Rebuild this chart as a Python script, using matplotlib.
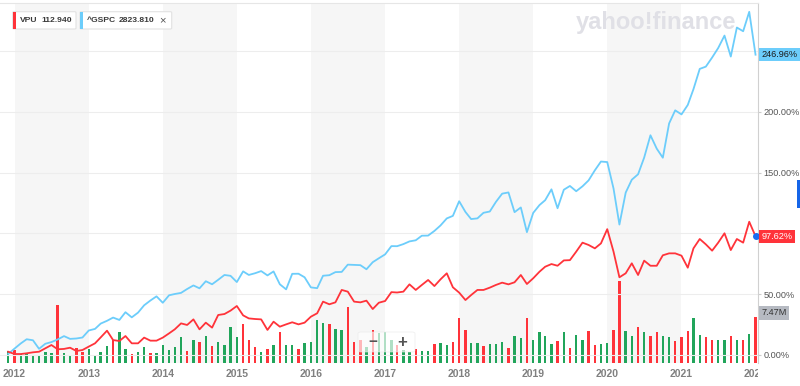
import matplotlib.pyplot as plt
import pandas as pd
from matplotlib.patches import FancyBboxPatch, Rectangle
from matplotlib.transforms import Bbox, TransformedBbox, blended_transform_factory

plt.rcParams["font.family"] = ["Liberation Sans", "DejaVu Sans"]

W, H = 800, 386

# monthly points, Dec 2011 .. Jan 2022 (last one is the intra-month price)
months = pd.date_range("2011-12-01", periods=122, freq="MS")

spx_base = 1246.91
spx_close = [
    1257.60,
    1312.41, 1365.68, 1408.47, 1397.91, 1310.33, 1362.16, 1379.32, 1406.58, 1440.67, 1412.16, 1416.18, 1426.19,
    1498.11, 1514.68, 1569.19, 1597.57, 1630.74, 1606.28, 1685.73, 1632.97, 1681.55, 1756.54, 1805.81, 1848.36,
    1782.59, 1859.45, 1872.34, 1883.95, 1923.57, 1960.23, 1930.67, 2003.37, 1972.29, 2018.05, 2067.56, 2058.90,
    1994.99, 2104.50, 2067.89, 2085.51, 2107.39, 2063.11, 2103.84, 1972.18, 1920.03, 2079.36, 2080.41, 2043.94,
    1940.24, 1932.23, 2059.74, 2065.30, 2096.95, 2098.86, 2173.60, 2170.95, 2168.27, 2126.15, 2198.81, 2238.83,
    2278.87, 2363.64, 2362.72, 2384.20, 2411.80, 2423.41, 2470.30, 2471.65, 2519.36, 2575.26, 2647.58, 2673.61,
    2823.81, 2713.83, 2640.87, 2648.05, 2705.27, 2718.37, 2816.29, 2901.52, 2913.98, 2711.74, 2760.17, 2506.85,
    2704.10, 2784.49, 2834.40, 2945.83, 2752.06, 2941.76, 2980.38, 2926.46, 2976.74, 3037.56, 3140.98, 3230.78,
    3225.52, 2954.22, 2584.59, 2912.43, 3044.31, 3100.29, 3271.12, 3500.31, 3363.00, 3269.96, 3621.63, 3756.07,
    3714.24, 3811.15, 3972.89, 4181.17, 4204.11, 4297.50, 4395.26, 4522.68, 4307.54, 4605.38, 4567.00, 4766.18,
    4326.51,
]

vpu_pct = [
    2.7,
    0.8, 0.8, 1.4, 2.2, 2.7, 5.5, 8.2, 4.7, 5.0, 6.0, 3.3, 4.1,
    6.9, 9.6, 14.5, 20.0, 12.3, 11.5, 15.6, 9.6, 9.6, 14.3, 11.8, 11.8,
    14.3, 17.8, 21.1, 26.0, 24.7, 29.3, 21.1, 26.6, 22.5, 32.9, 33.7, 36.5,
    40.3, 32.6, 30.1, 29.6, 29.3, 20.6, 27.4, 23.3, 25.2, 26.9, 25.2, 26.6,
    31.5, 34.3, 43.9, 41.7, 43.3, 53.5, 52.1, 43.9, 43.3, 44.7, 37.8, 43.0,
    44.4, 51.7, 51.4, 52.1, 58.1, 53.5, 57.6, 61.7, 56.7, 62.2, 67.2, 55.7,
    51.3, 45.2, 49.3, 53.5, 53.5, 55.4, 57.6, 59.5, 58.1, 59.8, 65.8, 58.4,
    63.1, 68.5, 72.6, 74.8, 73.4, 77.8, 78.0, 85.0, 92.4, 90.5, 87.7, 91.8,
    103.5, 85.0, 63.9, 67.2, 75.4, 65.8, 77.6, 73.4, 73.4, 82.0, 83.6, 83.6,
    81.7, 71.8, 87.7, 95.4, 91.0, 85.8, 92.4, 100.1, 86.3, 95.4, 92.4, 109.6,
    97.62,
]

# VPU volume, millions of shares
vpu_volume = [
    1.9,
    2.1, 1.4, 1.6, 1.1, 1.2, 1.8, 1.5, 9.5, 1.5, 1.3, 2.4, 1.8,
    2.3, 1.2, 1.8, 2.7, 3.8, 5.1, 2.2, 1.4, 1.8, 2.6, 1.6, 1.5,
    2.9, 2.1, 2.5, 4.2, 1.9, 3.8, 3.4, 4.3, 2.7, 3.4, 2.9, 5.8,
    4.2, 6.3, 3.8, 2.5, 1.8, 2.3, 2.9, 5.1, 2.9, 2.9, 2.3, 3.3,
    3.4, 7.0, 6.6, 6.4, 5.6, 5.4, 9.2, 3.4, 3.7, 2.6, 5.4, 4.8,
    5.1, 3.7, 2.9, 2.0, 1.8, 2.3, 1.95, 1.9, 3.1, 3.2, 2.9, 3.4,
    7.3, 5.3, 3.3, 3.3, 2.8, 3.1, 3.0, 3.4, 2.4, 4.4, 4.1, 7.4,
    3.8, 5.1, 4.4, 3.1, 3.5, 5.0, 2.4, 4.5, 3.7, 5.2, 2.9, 3.1,
    3.2, 5.3, 13.4, 5.2, 4.4, 5.9, 5.0, 4.4, 5.0, 4.4, 4.2, 3.6,
    4.2, 5.2, 7.4, 4.5, 4.2, 3.7, 3.8, 3.8, 4.4, 3.7, 3.8, 4.7,
    7.47,
]
# G = month closed up, R = down
vpu_direction = (
    "G"
    "RGGGGGGRGGRR"
    "GGGGRGGRGGRG"
    "GGGGRGRGRGGG"
    "GRRRGRGRGGRG"
    "GGGRGGRRRGRG"
    "GGRGGRGGRGGR"
    "RRGGRGGGRGGR"
    "GGGGRGRGGRRG"
    "GRRGGRGRRGGR"
    "RRGGRRGGRGRG"
    "R"
)

years = list(range(2012, 2023))
shaded_years = [2012, 2014, 2016, 2018, 2020]
pct_grid = [0, 50, 100, 150, 200, 250]
pct_labels = ["0.00%", "50.00%", "", "150.00%", "200.00%", ""]

RED = "#ff333a"
GREEN = "#21a55b"
BLUE = "#6ccdfb"


def px(x, y):
    return x / W, 1 - y / H


spx_pct = [c / spx_base * 100 - 100 for c in spx_close]

fig = plt.figure(figsize=(W / 100, H / 100), dpi=100)
ax_vol = fig.add_axes([0, 1 - 362.5 / H, 758.3 / W, 359.5 / H])
ax = ax_vol.twinx()

x_left = pd.Timestamp("2011-10-21 12:00")
x_right = pd.Timestamp("2022-01-14 16:00")

# background bands + volume
for yr in shaded_years:
    ax_vol.axvspan(pd.Timestamp(yr, 1, 1), pd.Timestamp(yr + 1, 1, 1),
                   color="#f6f6f6", lw=0, zorder=0)
bar_colors = [GREEN if d == "G" else RED for d in vpu_direction]
ax_vol.bar(months, vpu_volume, width=12, color=bar_colors, zorder=2)
ax_vol.set_ylim(0, 59.4)
ax_vol.set_xlim(x_left, x_right)
ax_vol.set_yticks([])
for s in ax_vol.spines.values():
    s.set_visible(False)

# price lines
ax.set_ylim(-6.17, 289.5)
ax.set_xlim(x_left, x_right)
for g in pct_grid:
    ax.axhline(g, color="#ededed", lw=0.8, zorder=0.5)
ax.text(px(576, 0)[0], px(0, 28.5)[1], "yahoo!finance", transform=fig.transFigure,
        fontsize=17, fontweight="bold", color="#e0e0e6", zorder=1)
ax.plot(months, spx_pct, color=BLUE, lw=1.3, zorder=3)
ax.plot(months, vpu_pct, color=RED, lw=1.3, zorder=4)
ax.plot([months[-1]], [vpu_pct[-1]], "o", color="#1a6cf0", ms=4, zorder=5, clip_on=False)

ax.set_yticks(pct_grid)
ax.set_yticklabels(pct_labels)
ax.tick_params(axis="y", length=2.4, pad=1.5, color="#cccccc", labelsize=6.6, labelcolor="#555555")
for name in ("left", "bottom"):
    ax.spines[name].set_visible(False)
ax.spines["right"].set_color("#d0d0d0")
ax.spines["top"].set_color("#e6e6e6")

ax_vol.set_xticks([pd.Timestamp(y, 1, 1) for y in years])
ax_vol.set_xticklabels([str(y) for y in years])
ax_vol.tick_params(axis="x", length=0, pad=5, labelsize=7.5, labelcolor="#808080")
clip = TransformedBbox(Bbox([[0, 0], [758.3 / W, 1]]), fig.transFigure)
for lbl in ax_vol.get_xticklabels():
    lbl.set_fontweight("bold")
    lbl.set_clip_box(clip)
    lbl.set_clip_on(True)

# right-hand value flags
flag_tr = blended_transform_factory(ax.transAxes, ax.transData)
flag_kw = dict(ha="left", va="center", fontsize=6.6, clip_on=False, zorder=6)
ax.text(1.004, spx_pct[-1], "%.2f%%" % 246.96, transform=flag_tr, color="#1b1b1b",
        bbox=dict(boxstyle="square,pad=0.25", fc=BLUE, ec="none"), **flag_kw)
ax.text(1.004, vpu_pct[-1], "%.2f%%" % vpu_pct[-1], transform=flag_tr, color="white",
        bbox=dict(boxstyle="square,pad=0.25", fc=RED, ec="none"), **flag_kw)
vol_tr = blended_transform_factory(ax.transAxes, ax_vol.transData)
ax.text(1.004, vpu_volume[-1] + 0.75, "%.2fM" % vpu_volume[-1], transform=vol_tr,
        color="#333333", bbox=dict(boxstyle="square,pad=0.3", fc="#b6bac2", ec="none"),
        **flag_kw)

# blue tab at the right edge
fig.patches.append(Rectangle(px(797, 208), 3 / W, 28 / H, transform=fig.transFigure,
                             fc="#1565e8", ec="none"))

# zoom control overlay
fig.patches.append(FancyBboxPatch(px(358, 352), 57 / W, 20 / H, transform=fig.transFigure,
                                  boxstyle="round,pad=0,rounding_size=0.004",
                                  fc="white", ec="#e8e8e8", lw=0.6, alpha=0.65))
fig.text(*px(373, 342), "\u2212", ha="center", va="center", fontsize=11,
         fontweight="bold", color="#555555")
fig.text(*px(402, 342), "+", ha="center", va="center", fontsize=12,
         fontweight="bold", color="#555555")

# legend chips
for x0, x1, col in [(12.7, 76, RED), (80, 171.7, BLUE)]:
    fig.patches.append(FancyBboxPatch(px(x0, 29), (x1 - x0) / W, 17.3 / H,
                                      transform=fig.transFigure,
                                      boxstyle="round,pad=0,rounding_size=0.002",
                                      fc="white", ec="#e2e2e2", lw=0.8))
    fig.patches.append(Rectangle(px(x0, 29), 3 / W, 17.3 / H, transform=fig.transFigure,
                                 fc=col, ec="none"))
chip_text = [(20, "VPU"), (41.3, "112.940"), (87.3, "^GSPC"), (118.3, "2823.810")]
for x0, t in chip_text:
    fig.text(*px(x0, 20.6), t, ha="left", va="center", fontsize=6.1,
             fontweight="bold", color="#3a3a3a")
fig.text(*px(162.5, 20.6), "\u00d7", ha="center", va="center", fontsize=8, color="#555555")

fig.savefig("out.png", dpi=100)
